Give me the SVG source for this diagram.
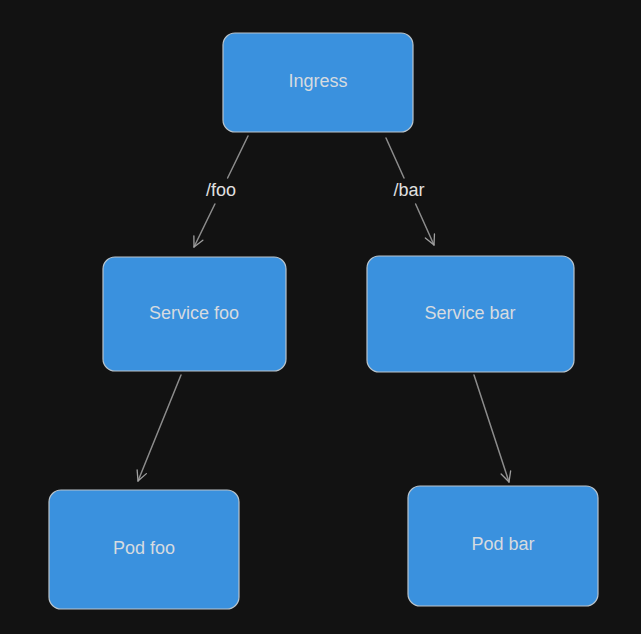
<svg xmlns="http://www.w3.org/2000/svg" width="641" height="634" viewBox="0 0 641 634">
<defs>
<marker id="arr" viewBox="0 0 12 12" refX="11" refY="6" markerWidth="12" markerHeight="12" markerUnits="userSpaceOnUse" orient="auto">
<path d="M1,1 L11,6 L1,11" fill="none" stroke="#a0a0a0" stroke-width="1.3" stroke-linecap="round" stroke-linejoin="round"/>
</marker>
<style>
.box{fill:#3a91de;stroke:#b9c4cc;stroke-width:1.2}
.lbl{font-family:"Liberation Sans",Arial,sans-serif;font-size:18px;fill:#d6dbe0;text-anchor:middle;dominant-baseline:central}
.edge{fill:none;stroke:#8c8c8c;stroke-width:1.5;stroke-linecap:round}
.elbl{font-family:"Liberation Sans",Arial,sans-serif;font-size:18px;fill:#e0e0e0;text-anchor:middle;dominant-baseline:central}
</style>
</defs>
<rect width="641" height="634" fill="#121212"/>
<g id="connectors">
<path class="edge" d="M248,136 L227.6,178"/>
<path class="edge" d="M214.9,204 L194,247" marker-end="url(#arr)"/>
<text class="elbl" x="221" y="190">/foo</text>
<path class="edge" d="M386,138 L404,178"/>
<path class="edge" d="M415.6,204 L434,245" marker-end="url(#arr)"/>
<text class="elbl" x="409" y="190">/bar</text>
<path class="edge" d="M181,375 L138,481" marker-end="url(#arr)"/>
<path class="edge" d="M474,375 L509,482" marker-end="url(#arr)"/>
</g>
<g id="ingress">
<rect class="box" x="223" y="33" width="190" height="99" rx="12"/>
<text class="lbl" x="318" y="81">Ingress</text>
</g>
<g id="service-foo">
<rect class="box" x="103" y="257" width="183" height="114" rx="12"/>
<text class="lbl" x="194" y="313">Service foo</text>
</g>
<g id="service-bar">
<rect class="box" x="367" y="256" width="207" height="116" rx="12"/>
<text class="lbl" x="470" y="313">Service bar</text>
</g>
<g id="pod-foo">
<rect class="box" x="49" y="490" width="190" height="119" rx="12"/>
<text class="lbl" x="144" y="548">Pod foo</text>
</g>
<g id="pod-bar">
<rect class="box" x="408" y="486" width="190" height="120" rx="12"/>
<text class="lbl" x="503" y="544">Pod bar</text>
</g>
</svg>
